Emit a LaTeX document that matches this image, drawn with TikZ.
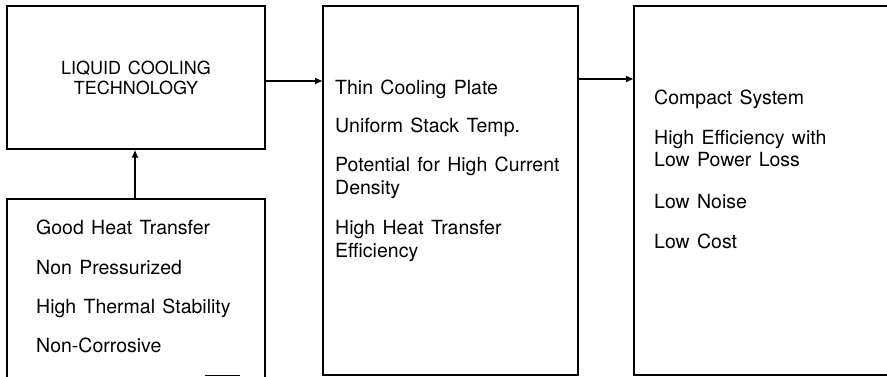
\documentclass[tikz,border=0pt]{standalone}
\usepackage{fontspec}
\setmainfont{TeX Gyre Heros}[WordSpace=1.35]
\usetikzlibrary{arrows.meta}
\tikzset{
  box/.style={draw=black, line width=1.2pt, rectangle, inner sep=0pt},
  conn/.style={line width=2.2pt, -{Latex[length=8pt,width=7pt]}},
  side/.style={draw=black, line width=1.2pt},
  txt/.style={anchor=base west, inner sep=0pt, font=\fontsize{19.5}{22}\selectfont},
  captxt/.style={anchor=base, inner sep=0pt, font=\fontsize{18}{20}\selectfont},
}
\begin{document}
\begin{tikzpicture}[x=1pt,y=-1pt]
\useasboundingbox (0,0) rectangle (887,377);
% boxes
\node[box, minimum width=258pt, minimum height=143pt] (liq) at (136,77.5) {};
\coordinate (gTL) at (7,199);
\coordinate (gTR) at (265,199);
\coordinate (gBL) at (7,377);
\coordinate (gBR) at (265,377);
\draw[side] (gBL) -- (gTL) -- (gTR) -- (gBR);
\coordinate (gF1) at (205,375.5);
\coordinate (gF2) at (240,375.5);
\draw[draw=black, line width=0.8pt] (gF1) -- (gF2);
\node[box, minimum width=255pt, minimum height=369pt] (mid) at (450.5,190.5) {};
\coordinate (rTR) at (887,6);
\coordinate (rTL) at (634,6);
\coordinate (rBL) at (634,375);
\coordinate (rBR) at (887,375);
\draw[side] (rTR) -- (rTL) -- (rBL) -- (rBR);
% connectors
\coordinate (gTop) at (135,199);
\coordinate (a1s) at (265,81);
\coordinate (a1e) at (323,81);
\coordinate (a2s) at (578,79);
\coordinate (a2e) at (634,79);
\draw[conn] (gTop) -- (liq.south -| gTop);
\draw[conn] (a1s) -- (a1e);
\draw[conn] (a2s) -- (a2e);
% texts
\node[captxt] (t1a) at (136,75) {LIQUID COOLING};
\node[captxt] (t1b) at (136,95) {TECHNOLOGY};
\node[txt] (g1) at (36,235) {Good Heat Transfer};
\node[txt] (g2) at (36,274) {Non Pressurized};
\node[txt] (g3) at (36,313) {High Thermal Stability};
\node[txt] (g4) at (36,352) {Non-Corrosive};
\node[txt] (m1) at (335,95) {Thin Cooling Plate};
\node[txt] (m2) at (335,133) {Uniform Stack Temp.};
\node[txt] (m3a) at (335,172) {Potential for High Current};
\node[txt] (m3b) at (335,195) {Density};
\node[txt] (m4a) at (335,235) {High Heat Transfer};
\node[txt] (m4b) at (335,258) {Efficiency};
\node[txt] (r1) at (654,105) {Compact System};
\node[txt] (r2a) at (654,145) {High Efficiency with};
\node[txt] (r2b) at (654,167) {Low Power Loss};
\node[txt] (r3) at (654,208) {Low Noise};
\node[txt] (r4) at (654,248) {Low Cost};
\end{tikzpicture}
\end{document}
